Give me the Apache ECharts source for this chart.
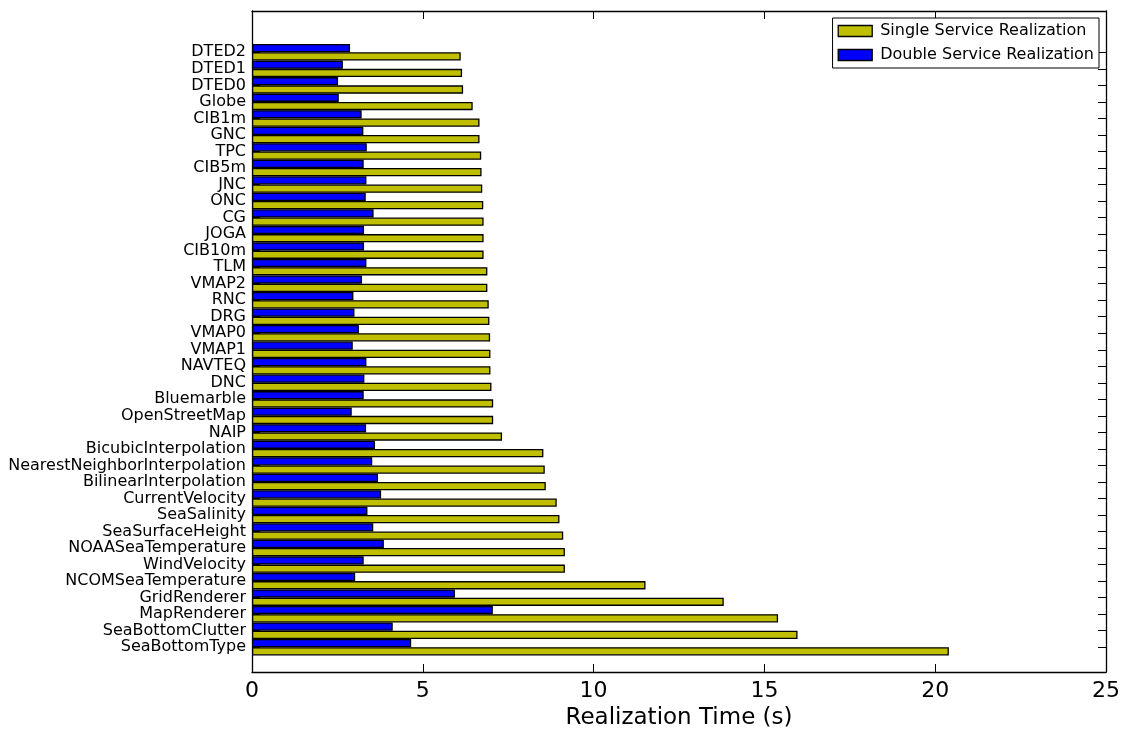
<!DOCTYPE html>
<html>
<head>
<meta charset="utf-8">
<script src="https://cdn.jsdelivr.net/npm/echarts@6/dist/echarts.min.js"></script>
<style>
  html, body { margin: 0; padding: 0; background: #fff; }
  #chart { width: 1130px; height: 731px; }
</style>
</head>
<body>
<div id="chart"></div>
<script>
// Services, listed from the top of the chart to the bottom
const services = [
  'DTED2', 'DTED1', 'DTED0', 'Globe', 'CIB1m', 'GNC', 'TPC', 'CIB5m', 'JNC', 'ONC',
  'CG', 'JOGA', 'CIB10m', 'TLM', 'VMAP2', 'RNC', 'DRG', 'VMAP0', 'VMAP1', 'NAVTEQ',
  'DNC', 'Bluemarble', 'OpenStreetMap', 'NAIP', 'BicubicInterpolation',
  'NearestNeighborInterpolation', 'BilinearInterpolation', 'CurrentVelocity',
  'SeaSalinity', 'SeaSurfaceHeight', 'NOAASeaTemperature', 'WindVelocity',
  'NCOMSeaTemperature', 'GridRenderer', 'MapRenderer', 'SeaBottomClutter', 'SeaBottomType'
];

// Realization time (s), one service at a time
const singleTimes = [
  6.11, 6.15, 6.18, 6.46, 6.66, 6.66, 6.71, 6.72, 6.74, 6.77,
  6.78, 6.78, 6.78, 6.89, 6.89, 6.93, 6.95, 6.97, 6.98, 6.98,
  7.01, 7.06, 7.06, 7.32, 8.53,
  8.57, 8.60, 8.92,
  9.00, 9.11, 9.16, 9.16,
  11.52, 13.81, 15.40, 15.97, 20.40
];

// Realization time (s), two services together
const doubleTimes = [
  2.87, 2.66, 2.52, 2.54, 3.21, 3.26, 3.36, 3.27, 3.35, 3.33,
  3.56, 3.28, 3.28, 3.35, 3.22, 2.97, 3.00, 3.13, 2.95, 3.35,
  3.29, 3.27, 2.92, 3.34, 3.60,
  3.52, 3.69, 3.78,
  3.38, 3.55, 3.86, 3.27,
  3.02, 5.94, 7.05, 4.12, 4.66
];

const xTicks = { min: 0, max: 25, interval: 5 };

const SINGLE = 'Single Service Realization';
const DOUBLE = 'Double Service Realization';

// The category axis runs bottom-up; leave one empty slot below and two above
const padBottom = 1, padTop = 2;
const axisCats = [].concat(
  Array(padBottom).fill(''),
  services.slice().reverse(),
  Array(padTop).fill('')
);
function padSeries(values) {
  return [].concat(
    Array(padBottom).fill('-'),
    values.slice().reverse(),
    Array(padTop).fill('-')
  );
}
const isReal = (i) => i >= padBottom && i < padBottom + services.length;

const FONT = 'DejaVu Sans';
// Frame lines stay on the grid edges instead of snapping to x = 0
const frameLine = { show: true, onZero: false, lineStyle: { color: '#000', width: 1.3 } };
const tickStyle = { color: '#000', width: 1 };
const barBorder = { borderColor: '#000', borderWidth: 1.3 };

const chart = echarts.init(document.getElementById('chart'), null, { renderer: 'canvas' });

const catTicks = {
  show: true,
  inside: true,
  length: 8,
  alignWithLabel: true,
  interval: (i) => isReal(i),
  lineStyle: tickStyle
};

chart.setOption({
  animation: false,
  backgroundColor: '#fff',
  textStyle: { fontFamily: FONT },
  grid: {
    left: 252, right: 24, top: 11, bottom: 59,
    containLabel: false,
    outerBoundsMode: 'none'
  },
  legend: {
    data: [SINGLE, DOUBLE],
    orient: 'vertical',
    right: 31,
    top: 18,
    icon: 'rect',
    backgroundColor: '#fff',
    borderColor: '#000',
    borderWidth: 1,
    borderRadius: 0,
    padding: [5, 5, 5, 5],
    itemWidth: 34,
    itemHeight: 11,
    itemGap: 8,
    itemStyle: { borderColor: '#000', borderWidth: 1.3 },
    textStyle: { fontFamily: FONT, fontSize: 16, color: '#000', padding: [0, 0, 0, 3] }
  },
  xAxis: [
    {
      type: 'value',
      position: 'bottom',
      min: xTicks.min, max: xTicks.max, interval: xTicks.interval,
      name: 'Realization Time (s)',
      nameLocation: 'middle',
      nameGap: 33,
      nameTextStyle: { fontFamily: FONT, fontSize: 23, color: '#000' },
      axisLine: frameLine,
      axisTick: { show: true, inside: true, length: 8, lineStyle: tickStyle },
      axisLabel: { fontFamily: FONT, fontSize: 22, color: '#000', margin: 8 },
      splitLine: { show: false }
    },
    {
      type: 'value',
      position: 'top',
      min: xTicks.min, max: xTicks.max, interval: xTicks.interval,
      axisLine: frameLine,
      axisTick: { show: true, inside: true, length: 8, lineStyle: tickStyle },
      axisLabel: { show: false },
      splitLine: { show: false }
    }
  ],
  yAxis: [
    {
      type: 'category',
      position: 'left',
      data: axisCats,
      boundaryGap: true,
      axisLine: frameLine,
      splitLine: { show: false },
      axisTick: catTicks,
      axisLabel: {
        interval: 0,
        fontFamily: FONT,
        fontSize: 16,
        color: '#000',
        margin: 6,
        padding: [4, 0, 0, 0]
      }
    },
    {
      type: 'category',
      position: 'right',
      data: axisCats,
      boundaryGap: true,
      axisLine: frameLine,
      splitLine: { show: false },
      axisTick: catTicks,
      axisLabel: { show: false }
    }
  ],
  series: [
    {
      name: DOUBLE,
      type: 'bar',
      xAxisIndex: 0,
      yAxisIndex: 0,
      data: padSeries(doubleTimes),
      barWidth: '50%',
      barGap: '0%',
      itemStyle: Object.assign({ color: '#0000ff' }, barBorder),
      emphasis: { disabled: true }
    },
    {
      name: SINGLE,
      type: 'bar',
      xAxisIndex: 0,
      yAxisIndex: 0,
      data: padSeries(singleTimes),
      barWidth: '50%',
      barGap: '0%',
      itemStyle: Object.assign({ color: '#bfbf00' }, barBorder),
      emphasis: { disabled: true }
    }
  ]
});
</script>
</body>
</html>
